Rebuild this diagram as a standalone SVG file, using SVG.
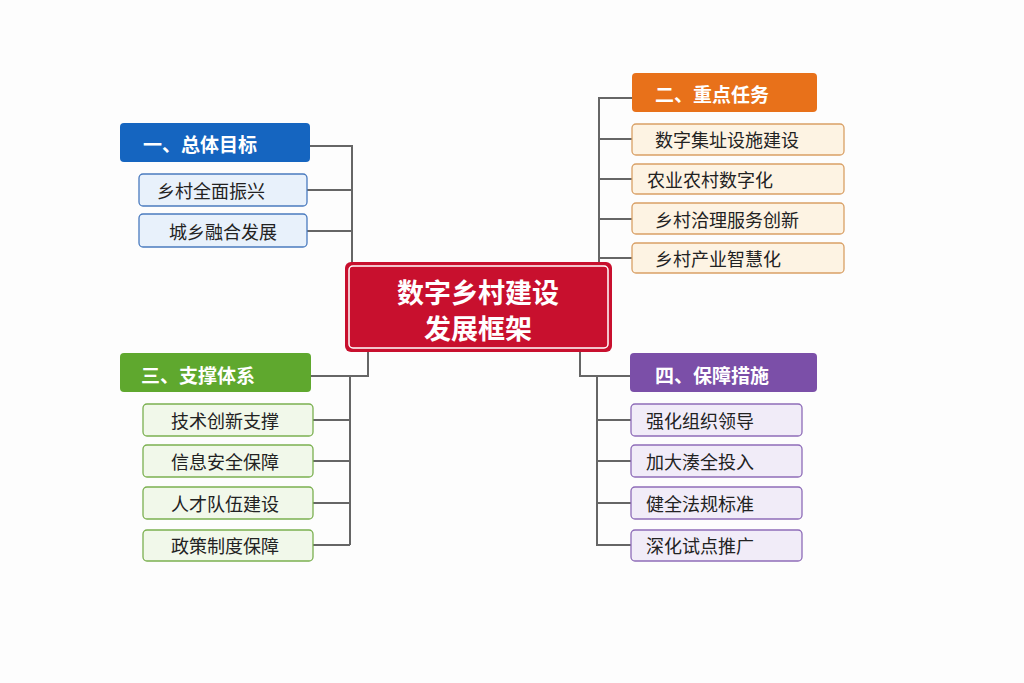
<svg xmlns="http://www.w3.org/2000/svg" width="1024" height="683" viewBox="0 0 1024 683">
<style>
text{font-family:"Noto Sans CJK SC","Noto Sans",sans-serif;dominant-baseline:central;text-anchor:middle}
.h{fill:#fff;font-size:19px;font-weight:bold}
.i{fill:#222;font-size:18px}
.c{fill:none;stroke:#666;stroke-width:2}
.b{fill:#e8f1fb;stroke:#4a7bbf;stroke-width:1.3}
.o{fill:#fdf3e3;stroke:#d9a066;stroke-width:1.3}
.g{fill:#f1f8ea;stroke:#7bb050;stroke-width:1.3}
.p{fill:#f1ecf8;stroke:#8e6cb8;stroke-width:1.3}
</style>
<rect width="1024" height="683" fill="#fdfdfd"/>
<g id="connectors" class="c">
<path d="M310 146H352V262M307 190H352M307 231H352"/>
<path d="M599 262V98H632M599 139H632M599 179H632M599 219H632M599 258H632"/>
<path d="M368 352V376H311M350 376V545M313 420H350M313 461H350M313 503H350M313 545H350"/>
<path d="M580 352V376H630M597 376V545H631M597 420H631M597 461H631M597 503H631"/>
</g>
<g id="center"><rect x="345" y="262" width="267" height="90" rx="6" fill="#c8102e"/><rect x="349" y="266" width="259" height="82" rx="4" fill="none" stroke="#fff" stroke-width="1.5"/>
<text x="478" y="291" fill="#fff" font-size="27" font-weight="bold">数字乡村建设</text><text x="478" y="327" fill="#fff" font-size="27" font-weight="bold">发展框架</text></g>
<g id="h1"><rect x="120" y="123" width="190" height="39" rx="4" fill="#1565c0"/><text class="h" x="200" y="143">一、总体目标</text></g>
<g id="a1"><rect class="b" x="139" y="174" width="168" height="32" rx="4"/><text class="i" x="211" y="190">乡村全面振兴</text></g>
<g id="a2"><rect class="b" x="139" y="214" width="168" height="33" rx="4"/><text class="i" x="223" y="231">城乡融合发展</text></g>
<g id="h2"><rect x="632" y="73" width="185" height="39" rx="4" fill="#e8711a"/><text class="h" x="712" y="93">二、重点任务</text></g>
<g id="b1"><rect class="o" x="632" y="124" width="212" height="31" rx="4"/><text class="i" x="727" y="139">数字集址设施建设</text></g>
<g id="b2"><rect class="o" x="632" y="164" width="212" height="30" rx="4"/><text class="i" x="710" y="179">农业农村数字化</text></g>
<g id="b3"><rect class="o" x="632" y="203" width="212" height="31" rx="4"/><text class="i" x="727" y="219">乡村洽理服务创新</text></g>
<g id="b4"><rect class="o" x="632" y="243" width="212" height="30" rx="4"/><text class="i" x="718" y="258">乡村产业智慧化</text></g>
<g id="h3"><rect x="120" y="353" width="191" height="39" rx="4" fill="#5fa82e"/><text class="h" x="198" y="374">三、支撑体系</text></g>
<g id="c1"><rect class="g" x="143" y="404" width="170" height="32" rx="4"/><text class="i" x="225" y="420">技术创新支撑</text></g>
<g id="c2"><rect class="g" x="143" y="445" width="170" height="32" rx="4"/><text class="i" x="225" y="461">信息安全保障</text></g>
<g id="c3"><rect class="g" x="143" y="487" width="170" height="32" rx="4"/><text class="i" x="225" y="503">人才队伍建设</text></g>
<g id="c4"><rect class="g" x="143" y="530" width="170" height="31" rx="4"/><text class="i" x="225" y="545">政策制度保障</text></g>
<g id="h4"><rect x="630" y="353" width="187" height="39" rx="4" fill="#7b4fa8"/><text class="h" x="712" y="374">四、保障措施</text></g>
<g id="d1"><rect class="p" x="631" y="404" width="171" height="32" rx="4"/><text class="i" x="700" y="420">强化组织领导</text></g>
<g id="d2"><rect class="p" x="631" y="445" width="171" height="32" rx="4"/><text class="i" x="700" y="461">加大湊全投入</text></g>
<g id="d3"><rect class="p" x="631" y="487" width="171" height="32" rx="4"/><text class="i" x="700" y="503">健全法规标准</text></g>
<g id="d4"><rect class="p" x="631" y="530" width="171" height="31" rx="4"/><text class="i" x="700" y="545">深化试点推广</text></g>
</svg>
